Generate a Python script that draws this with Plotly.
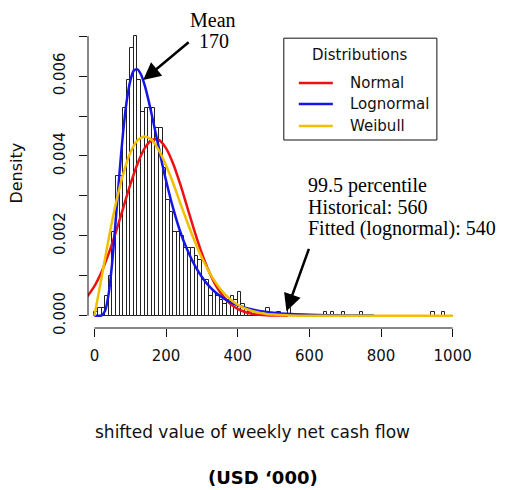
import plotly.graph_objects as go

# ---------------- data ----------------
bin_width = 10
bin_left = list(range(0, 1000, 10))
# histogram densities in units of 1e-4
density_e4 = [
    1, 2, 2, 5, 10, 21, 35, 35, 52, 59,
    67, 70, 59, 51, 52, 52, 52, 47, 47, 37,
    29, 26, 21, 21, 20, 17, 17, 17, 15, 14,
    9, 9, 5, 6, 5, 4, 3, 4, 5, 4,
    6, 3, 2, 1, 1, 0, 0, 1, 2, 0,
    0, 1, 0, 0, 2, 0, 0, 0, 0, 0,
    0, 0, 0, 0, 1, 0, 1, 0, 0, 1,
    0, 0, 0, 0, 1, 0, 0, 0, 0, 0,
    0, 0, 0, 0, 0, 0, 0, 0, 0, 0,
    0, 0, 0, 0, 1, 0, 0, 1, 0, 0,
]

normal_x = [-20, 0, 20, 40, 60, 80, 100, 120, 140, 160, 180, 200, 220, 240, 260,
            280, 300, 320, 340, 360, 380, 400, 420, 440, 460, 480, 500, 520, 540]
normal_e4 = [4.8, 7.4, 11.0, 15.6, 21.0, 26.9, 32.8, 38.0, 41.9, 44.0, 44.0, 41.9, 38.0,
             32.8, 26.9, 21.0, 15.6, 11.0, 7.4, 4.8, 2.9, 1.7, 0.94, 0.49, 0.25, 0.12,
             0.05, 0.02, 0.01]

lognormal_x = [0, 10, 20, 30, 40, 50, 60, 70, 80, 90, 100, 110, 120, 130, 140, 150, 160,
               170, 180, 190, 200, 220, 240, 260, 280, 300, 320, 340, 360, 380, 400,
               450, 500, 550, 600, 650, 700, 780]
lognormal_e4 = [0, 0, 0.09, 1.32, 5.66, 13.8, 24.6, 35.8, 45.9, 53.7, 58.8, 61.4, 61.7,
                60.4, 57.8, 54.3, 50.3, 46.1, 41.9, 37.7, 33.8, 26.8, 20.9, 16.3, 12.6,
                9.7, 7.4, 5.7, 4.4, 3.4, 2.6, 1.4, 0.75, 0.41, 0.23, 0.13, 0.08, 0.03]

weibull_x = [0, 20, 40, 60, 80, 100, 120, 140, 160, 180, 200, 220, 240, 260, 280, 300,
             320, 340, 360, 380, 400, 420, 440, 460, 480, 500, 550, 600, 700, 800, 900, 1000]
weibull_e4 = [0, 9.6, 19.4, 28.2, 35.4, 40.8, 43.9, 44.9, 44.0, 41.4, 37.6, 33.1, 28.1,
              23.2, 18.6, 14.5, 11.0, 8.1, 5.8, 4.05, 2.75, 1.82, 1.17, 0.74, 0.45, 0.27,
              0.07, 0.01, 0, 0, 0, 0]

x_ticks = [0, 200, 400, 600, 800, 1000]
y_ticks = [0, 0.001, 0.002, 0.003, 0.004, 0.005, 0.006, 0.007]
y_ticktext = ["0.000", "", "0.002", "", "0.004", "", "0.006", ""]

series_names = ["Normal", "Lognormal", "Weibull"]
series_colors = ["#ee1111", "#1515e6", "#f0c000"]

mean_value = 170
p995_fitted = 540

# ---------------- layout geometry (pixels) ----------------
OFF = 8  # default page body margin
W, H = 507 - OFF, 490 - OFF
ML, MT = 88.3 - OFF, 24.8 - OFF
PW, PH = 378.8, 303.5
MR = W - ML - PW
MB = H - MT - PH
X_RANGE = [-18, -18 + PW / 0.358]
Y_RANGE = [-0.000308, -0.000308 + PH / 40000]


def px(x):
    return (x - OFF - ML) / PW


def py(y):
    return 1 - (y - OFF - MT) / PH


SANS = "DejaVu Sans"
SERIF = "Liberation Serif"
INK = "#111111"

fig = go.Figure()

fig.add_trace(go.Bar(
    x=[b + bin_width / 2 for b in bin_left],
    y=[d * 1e-4 for d in density_e4],
    width=bin_width,
    marker=dict(color="rgba(255,255,255,0)", line=dict(color="#222222", width=1)),
    showlegend=False, hoverinfo="skip",
))

curves = [(normal_x, normal_e4), (lognormal_x, lognormal_e4), (weibull_x, weibull_e4)]
for (cx, cy), name, col in zip(curves, series_names, series_colors):
    fig.add_trace(go.Scatter(
        x=cx, y=[v * 1e-4 for v in cy], mode="lines", name=name,
        line=dict(color=col, width=2.5, shape="spline", smoothing=0.8),
        showlegend=False,
    ))

shapes = []
# R-style axis lines (span only from first to last tick)
shapes.append(dict(type="line", xref="x", yref="paper", x0=x_ticks[0], x1=x_ticks[-1],
                   y0=0, y1=0, line=dict(color=INK, width=1)))
shapes.append(dict(type="line", xref="paper", yref="y", x0=0, x1=0,
                   y0=y_ticks[0], y1=y_ticks[-1], line=dict(color=INK, width=1)))
# legend box
shapes.append(dict(type="rect", xref="paper", yref="paper",
                   x0=px(284), x1=px(437), y0=py(140), y1=py(38),
                   line=dict(color=INK, width=1), fillcolor="white"))
leg_y = [83, 104, 126]
for yy, col in zip(leg_y, series_colors):
    shapes.append(dict(type="line", xref="paper", yref="paper",
                       x0=px(299), x1=px(333), y0=py(yy), y1=py(yy),
                       line=dict(color=col, width=2.5)))

annotations = []
annotations.append(dict(text="Distributions", xref="paper", yref="paper",
                        x=px(360), y=py(55), xanchor="center", yanchor="middle",
                        showarrow=False, font=dict(family=SANS, size=15, color=INK)))
for yy, name in zip(leg_y, series_names):
    annotations.append(dict(text=name, xref="paper", yref="paper",
                            x=px(348), y=py(yy), xanchor="left", yanchor="middle",
                            showarrow=False, font=dict(family=SANS, size=15, color=INK)))

SERIF_SIZE = 20
# Mean annotation
annotations.append(dict(text="Mean", xref="paper", yref="paper", x=px(213), y=py(20),
                        xanchor="center", yanchor="middle", showarrow=False,
                        font=dict(family=SERIF, size=SERIF_SIZE, color="black")))
annotations.append(dict(text=str(mean_value), xref="paper", yref="paper", x=px(214), y=py(41),
                        xanchor="center", yanchor="middle", showarrow=False,
                        font=dict(family=SERIF, size=SERIF_SIZE, color="black")))
annotations.append(dict(text="", x=136, y=0.0059, xref="x", yref="y",
                        ax=47, ay=-39, showarrow=True, arrowhead=2, arrowsize=1.4,
                        arrowwidth=2.5, arrowcolor="black", standoff=0))

# percentile annotation
pct_lines = ["99.5 percentile", "Historical: 560", "Fitted (lognormal): %d" % p995_fitted]
for i, t in enumerate(pct_lines):
    annotations.append(dict(text=t, xref="paper", yref="paper", x=px(306), y=py(186 + 21.5 * i),
                            xanchor="left", yanchor="middle", showarrow=False,
                            font=dict(family=SERIF, size=SERIF_SIZE, color="black")))
annotations.append(dict(text="", x=536, y=0.00011, xref="x", yref="y",
                        ax=23, ay=-64, showarrow=True, arrowhead=2, arrowsize=1.4,
                        arrowwidth=2.5, arrowcolor="black", standoff=0))

# axis titles
annotations.append(dict(text="Density", xref="paper", yref="paper", x=px(17), y=py(173),
                        xanchor="center", yanchor="middle", textangle=-90, showarrow=False,
                        font=dict(family=SANS, size=16, color=INK)))
annotations.append(dict(text="shifted value of weekly net cash flow", xref="paper", yref="paper",
                        x=px(93), y=py(432), xanchor="left", yanchor="middle", showarrow=False,
                        font=dict(family=SANS, size=17, color=INK)))
annotations.append(dict(text="<b>(USD \u2018000)</b>", xref="paper", yref="paper",
                        x=px(263), y=py(478), xanchor="center", yanchor="middle", showarrow=False,
                        font=dict(family=SANS, size=18, color="black")))

fig.update_layout(
    width=W, height=H,
    margin=dict(l=ML, r=MR, t=MT, b=MB, pad=0),
    paper_bgcolor="white", plot_bgcolor="white",
    showlegend=False, bargap=0,
    shapes=shapes, annotations=annotations,
    xaxis=dict(range=X_RANGE, tickvals=x_ticks, ticktext=[str(v) for v in x_ticks],
               ticks="outside", ticklen=8, tickcolor=INK, tickwidth=1,
               showline=False, showgrid=False, zeroline=False,
               tickfont=dict(family=SANS, size=15, color=INK), ticklabelstandoff=6),
    yaxis=dict(range=Y_RANGE, tickvals=y_ticks, ticktext=y_ticktext,
               ticks="outside", ticklen=8, tickcolor=INK, tickwidth=1, tickangle=-90,
               showline=False, showgrid=False, zeroline=False,
               tickfont=dict(family=SANS, size=15, color=INK), ticklabelstandoff=8),
)

fig.write_html("out.html")
